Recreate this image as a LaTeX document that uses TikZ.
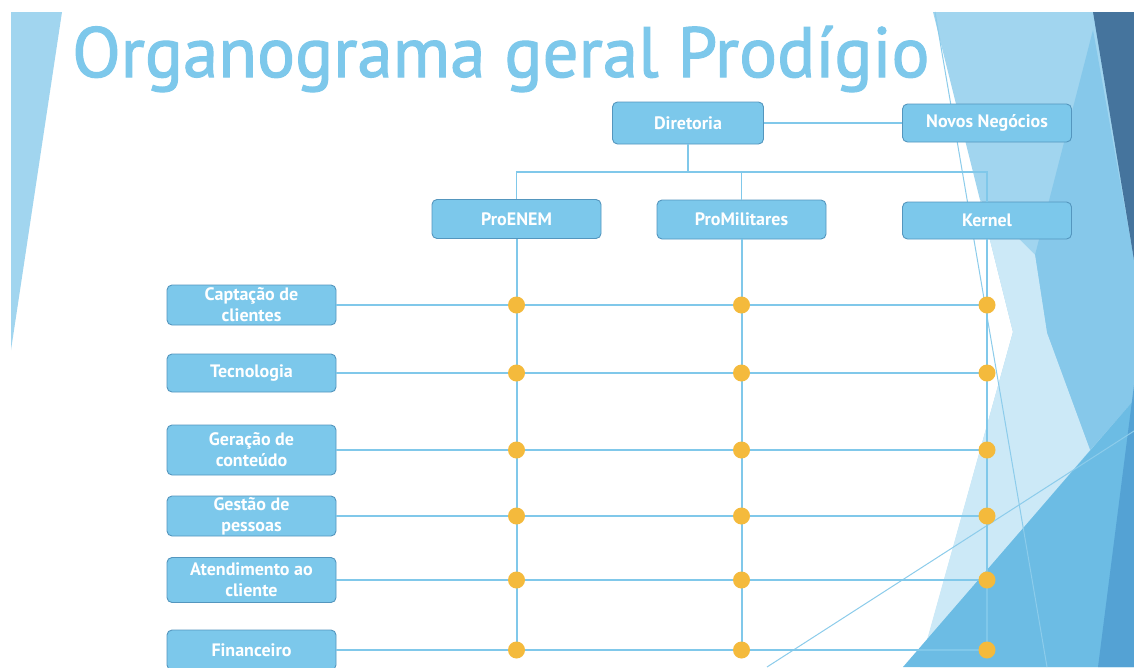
\documentclass[tikz,border=0pt]{standalone}
\usepackage{fontspec}
\setmainfont{PT Sans}
\newfontfamily\titlefont{PT Sans}[FakeBold=1.6]
\usetikzlibrary{positioning}

\definecolor{nodefill}{RGB}{124,200,235}
\definecolor{nodeedge}{RGB}{84,150,190}
\definecolor{wire}{RGB}{128,200,234}
\definecolor{dotc}{RGB}{244,186,60}
\definecolor{titlec}{RGB}{125,200,235}
\definecolor{facetlight}{RGB}{161,213,239}
\definecolor{facetpale}{RGB}{204,233,247}
\definecolor{facetmid}{RGB}{134,200,234}
\definecolor{facetdeep}{RGB}{108,188,228}
\definecolor{facetnavy}{RGB}{69,116,157}
\definecolor{facetsteel}{RGB}{80,158,210}
\definecolor{facetline}{RGB}{140,204,235}

\tikzset{
  box/.style={draw=nodeedge, line width=0.9pt, fill=nodefill, rounded corners=5pt,
    text=white, font=\bfseries\fontsize{18}{21}\selectfont, align=center,
    minimum width=169pt, minimum height=39pt, inner sep=0pt},
  wirethick/.style={draw=wire, line width=2.6pt},
  wiremain/.style={draw=wire, line width=2pt},
  wirethin/.style={draw=wire, line width=1.5pt},
  dot/.style={fill=dotc},
}

\begin{document}
\begin{tikzpicture}[x=1pt,y=-1pt]
\useasboundingbox (0,0) rectangle (1134,667);
\fill[white] (0,0) rectangle (1134,667);

% facet decoration, left edge
\fill[facetlight] (11,12) -- (62,12) -- (11,350) -- cycle;

% facet decoration, right edge
\fill[facetlight] (933,12) -- (1134,12) -- (1134,667) -- (920,667) -- (1013,332) -- cycle;
\fill[facetmid] (1093,30) -- (1134,260) -- (1134,400) -- (1090,450) -- (1047,333) -- (1035,255) -- cycle;
\fill[facetpale] (980,200) -- (1035,255) -- (1047,333) -- (1090,450) -- (927,640) -- (1013,332) -- cycle;
\fill[facetdeep] (903,667) -- (1134,400) -- (1134,667) -- cycle;
\fill[facetsteel, opacity=0.85] (1134,385) -- (1134,667) -- (1098,667) -- cycle;
\fill[facetnavy] (1093,12) -- (1134,12) -- (1134,260) -- cycle;
\draw[facetline, line width=1pt] (935,12) -- (1047,667);
\draw[facetline, line width=1pt] (767,667) -- (1134,431);

% title
\node[anchor=base west, text=titlec, inner sep=0pt, font=\titlefont\fontsize{71}{71}\selectfont] (title) at (72,77) {Organograma geral Prodígio};

% top of the chart
\node[box, minimum width=151pt, minimum height=42pt] (dir) at (688,123) {Diretoria};
\node[box, minimum height=38pt] (novos) at (987,123) {Novos Negócios};
\node[box] (enem) at (516.5,219) {ProENEM};
\node[box] (mil) at (741.5,219.5) {ProMilitares};
\node[box, minimum height=37pt] (kern) at (987,220.5) {Kernel};

% areas
\node[box, minimum height=40pt] (capt) at (251.5,305) {Captação de\\clientes};
\node[box, minimum height=38pt] (tec) at (251.5,373) {Tecnologia};
\node[box, minimum height=50pt] (ger) at (251.5,450) {Geração de\\conteúdo};
\node[box, minimum height=40pt] (gest) at (251.5,516) {Gestão de\\pessoas};
\node[box, minimum height=45pt] (aten) at (251.5,580) {Atendimento ao\\cliente};
\node[box, minimum height=40pt] (fin) at (251.5,650) {Financeiro};

% hierarchy connectors
\coordinate (bus) at (688,172);
\coordinate (bottom) at (688,650);
\draw[wirethin, line width=1.2pt] (dir.east) -- (novos.west);
\draw[wirethin] (dir.south) -- (bus);
\draw[wirethin] (enem.north) -- (enem.north |- bus) -- (kern.north |- bus) -- (kern.north);
\draw[wirethin] (mil.north) -- (mil.north |- bus);
\draw[wiremain] (enem.south) -- (enem.south |- bottom);
\draw[wiremain] (mil.south) -- (mil.south |- bottom);
\draw[wiremain] (kern.south) -- (kern.south |- bottom);

% area rows crossing the three units
\foreach \a in {capt,tec,ger,gest,aten,fin}{
  \draw[wirethick] (\a.east) -- (enem.south |- \a.east);
  \draw[wirethin] (enem.south |- \a.east) -- (kern.south |- \a.east);
  \fill[dot] (enem.south |- \a.east) circle[radius=8.5pt];
  \fill[dot] (mil.south |- \a.east) circle[radius=8.5pt];
  \fill[dot] (kern.south |- \a.east) circle[radius=8.5pt];
}
\end{tikzpicture}
\end{document}
